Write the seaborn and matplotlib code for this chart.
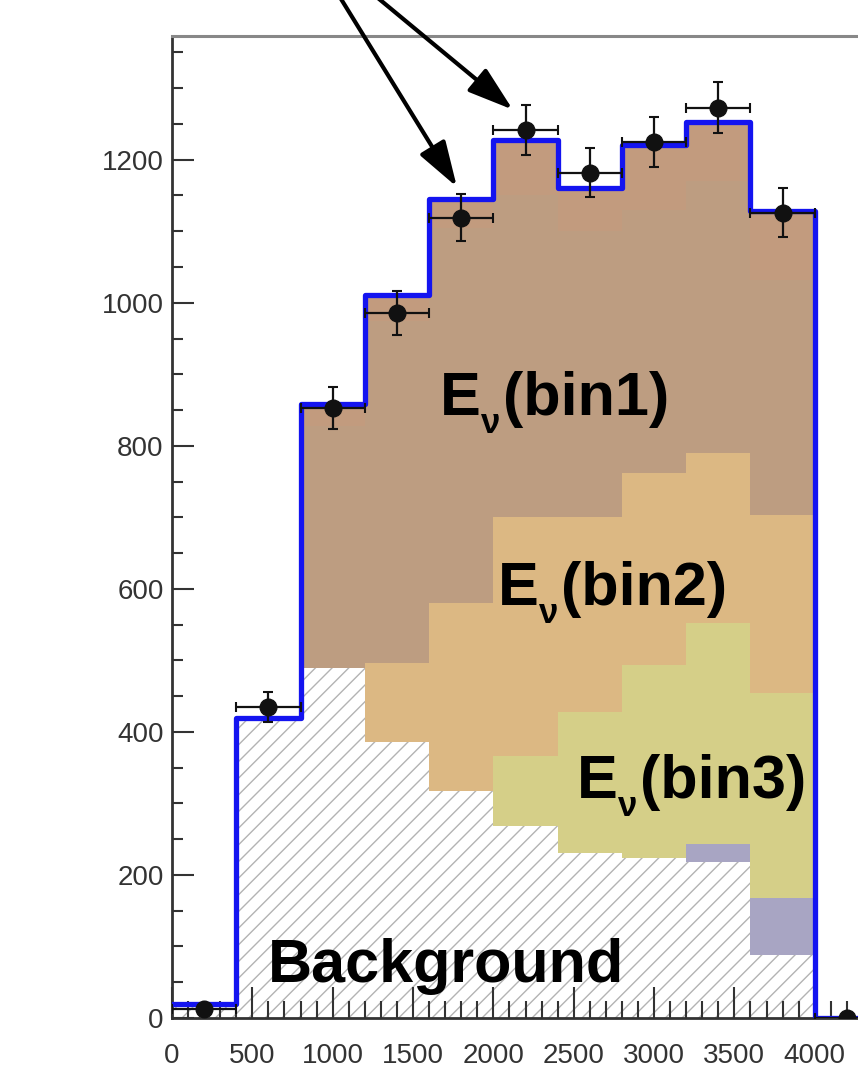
import matplotlib.pyplot as plt
import numpy as np
import pandas as pd
import seaborn as sns
from matplotlib.ticker import MultipleLocator

# energy bins (bin edges and centres)
edges = [0, 400, 800, 1200, 1600, 2000, 2400, 2800, 3200, 3600, 4000, 4400]
centers = [200, 600, 1000, 1400, 1800, 2200, 2600, 3000, 3400, 3800, 4200]

# stacked components, bottom to top
background = [20, 420, 490, 386, 317, 268, 231, 224, 218, 88, 0]
other_bkg = [0, 0, 0, 0, 0, 0, 0, 0, 25, 80, 0]
ev_bin3 = [0, 0, 0, 0, 0, 98, 197, 270, 309, 286, 0]
ev_bin2 = [0, 0, 0, 110, 263, 334, 272, 268, 238, 249, 0]
ev_bin1 = [0, 0, 338, 479, 525, 450, 400, 368, 380, 329, 0]
ev_top = [0, 0, 30, 36, 40, 78, 61, 91, 83, 97, 0]

# data points
data_counts = [12, 435, 853, 986, 1119, 1242, 1182, 1225, 1273, 1126, 0]
data_errors = [4, 21, 29, 31, 33, 35, 34, 35, 36, 34, 0]

components = {
    'top': ev_top,
    'bin1': ev_bin1,
    'bin2': ev_bin2,
    'bin3': ev_bin3,
    'other': other_bkg,
    'background': background,
}
colors = {
    'top': '#c29b7e',
    'bin1': '#bd9d81',
    'bin2': '#dcb883',
    'bin3': '#d5cf88',
    'other': '#a8a5c3',
    'background': '#ffffff',
}

rows = []
for name, values in components.items():
    for c, v in zip(centers, values):
        rows.append({'energy': c, 'count': v, 'component': name})
df = pd.DataFrame(rows)
total = np.sum([components[k] for k in components], axis=0)

sns.set_style('ticks')
plt.rcParams['font.family'] = ['Liberation Sans', 'DejaVu Sans']
plt.rcParams['hatch.color'] = '#b3b3b3'

fig = plt.figure(figsize=(8.58, 10.70), dpi=100)
ax = fig.add_axes([172 / 858, 52 / 1070, (879 - 172) / 858, (1018 - 36) / 1070])

sns.histplot(data=df, x='energy', weights='count', hue='component',
             hue_order=list(components.keys()), multiple='stack', bins=edges,
             element='step', palette=colors, linewidth=0, alpha=1,
             legend=False, ax=ax)

# hatch the (white) background layer
for coll in ax.collections:
    fc = coll.get_facecolor()
    if len(fc) and np.allclose(fc[0][:3], 1.0):
        coll.set_hatch('//')
        coll.set_edgecolor('#b3b3b3')
        coll.set_linewidth(0)

sns.histplot(x=centers, weights=total, bins=edges, element='step', fill=False,
             color='#1414f0', linewidth=3.8, ax=ax, zorder=3)

ax.errorbar(centers, data_counts, xerr=200, yerr=data_errors, fmt='o',
            color='#111111', ms=12, elinewidth=1.6, capsize=3.5, capthick=1.5,
            zorder=4)

txt = dict(fontsize=44, fontweight='bold', color='black', zorder=5, va='baseline')


def ev_label(x, y, tag):
    ax.text(x, y, 'E', **txt)
    ax.annotate('ν', xy=(x, y), xytext=(41, -18), textcoords='offset pixels',
                fontsize=25, fontweight='bold', color='black', zorder=5,
                va='baseline')
    ax.annotate(tag, xy=(x, y), xytext=(63, 0), textcoords='offset pixels', **txt)


ev_label(1667, 843, '(bin1)')
ev_label(2028, 578, '(bin2)')
ev_label(2519, 308, '(bin3)')
ax.text(597, 50, 'Background', **txt)

arrow = dict(arrowstyle='-|>,head_length=0.56,head_width=0.18', color='black',
             lw=3, mutation_scale=50, shrinkA=0, shrinkB=0)
ax.annotate('', xy=(1773, 1162), xycoords='data', xytext=(317, 1110),
            textcoords='figure pixels', arrowprops=arrow, annotation_clip=False)
ax.annotate('', xy=(2121, 1270), xycoords='data', xytext=(332, 1110),
            textcoords='figure pixels', arrowprops=arrow, annotation_clip=False)

ax.set_xlim(0, 4400)
ax.set_ylim(0, 1373)
ax.set_xticks(range(0, 4001, 500))
ax.xaxis.set_minor_locator(MultipleLocator(100))
ax.set_yticks(range(0, 1201, 200))
ax.yaxis.set_minor_locator(MultipleLocator(50))
ax.set_xlabel('')
ax.set_ylabel('')
ax.set_axisbelow(False)

ax.tick_params(axis='both', which='both', direction='in', color='#333333',
               width=1.5, labelsize=20, labelcolor='#333333')
ax.tick_params(axis='y', which='major', length=16, pad=6)
ax.tick_params(axis='y', which='minor', length=8)
ax.tick_params(axis='x', which='major', length=22, pad=18)
ax.tick_params(axis='x', which='minor', length=12)

for side in ['left', 'bottom']:
    ax.spines[side].set_color('#333333')
    ax.spines[side].set_linewidth(2)
ax.spines['top'].set_color('#888888')
ax.spines['top'].set_linewidth(2.2)

fig.savefig('out.png', dpi=100)
